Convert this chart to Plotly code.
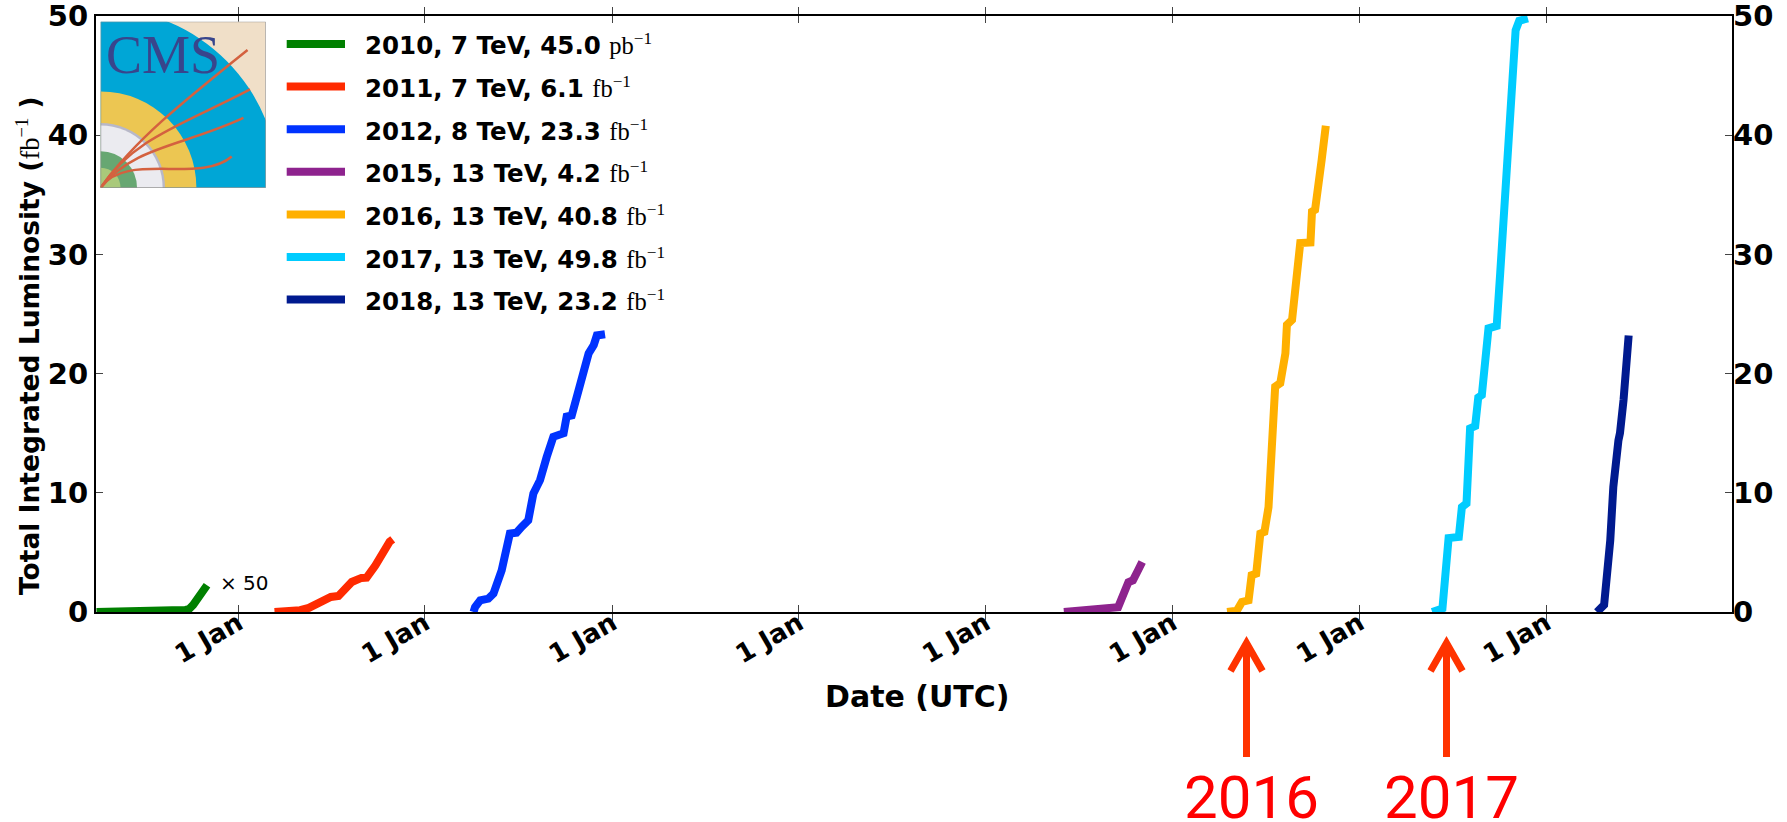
import plotly.graph_objects as go

# ---------------- data ----------------
years = [2010, 2011, 2012, 2015, 2016, 2017, 2018]
energies_tev = [7, 7, 8, 13, 13, 13, 13]
totals = [45.0, 6.1, 23.3, 4.2, 40.8, 49.8, 23.2]
units = ["pb", "fb", "fb", "fb", "fb", "fb", "fb"]
colors = ["#008000", "#ff2a00", "#0033ff", "#8e238e", "#ffb000", "#00ccff", "#001a8f"]

# 2010 is stored in pb^-1 and drawn scaled (x50, in fb^-1)
dates_2010 = ["2010-03-30", "2010-05-15", "2010-07-01", "2010-08-01", "2010-08-25",
              "2010-09-20", "2010-09-27", "2010-10-05", "2010-10-14", "2010-10-19",
              "2010-10-25", "2010-11-01"]
lumi_2010_pb = [0, 0.02, 0.1, 1.0, 3.0, 3.5, 5.0, 12.0, 22.0, 28.0, 39.0, 45.0]
scale_2010 = 50

dates_2011 = ["2011-03-13", "2011-04-16", "2011-05-02", "2011-05-19", "2011-06-13",
              "2011-07-01", "2011-07-16", "2011-07-25", "2011-08-11", "2011-08-30",
              "2011-09-09", "2011-09-26", "2011-10-08", "2011-10-19", "2011-10-24",
              "2011-10-30"]
lumi_2011 = [0, 0.05, 0.15, 0.34, 0.98, 1.26, 1.34, 1.7, 2.52, 2.86, 2.88, 3.9, 4.8,
             5.6, 5.9, 6.1]

dates_2012 = ["2012-04-05", "2012-04-08", "2012-04-18", "2012-05-04", "2012-05-14",
              "2012-05-30", "2012-06-15", "2012-06-28", "2012-07-08", "2012-07-21",
              "2012-07-31", "2012-08-13", "2012-08-26", "2012-09-08", "2012-09-28",
              "2012-10-04", "2012-10-14", "2012-10-24", "2012-11-06", "2012-11-16",
              "2012-11-26", "2012-12-02", "2012-12-18"]
lumi_2012 = [0, 0.42, 0.98, 1.12, 1.54, 3.5, 6.58, 6.65, 7.14, 7.7, 9.94, 11.06, 13.0,
             14.7, 15.0, 16.4, 16.5, 18.07, 20.0, 21.7, 22.4, 23.2, 23.3]

dates_2015 = ["2015-06-03", "2015-07-11", "2015-09-04", "2015-09-17", "2015-10-07",
              "2015-10-16", "2015-10-26", "2015-11-03"]
lumi_2015 = [0, 0.15, 0.28, 0.4, 2.5, 2.66, 3.5, 4.2]

dates_2016 = ["2016-04-17", "2016-05-06", "2016-05-16", "2016-05-29", "2016-06-04",
              "2016-06-13", "2016-06-21", "2016-06-29", "2016-07-07", "2016-07-20",
              "2016-07-30", "2016-08-09", "2016-08-12", "2016-08-22", "2016-09-07",
              "2016-09-27", "2016-09-30", "2016-10-06", "2016-10-19", "2016-10-27"]
lumi_2016 = [0, 0.1, 0.84, 0.98, 3.08, 3.22, 6.58, 6.72, 8.8, 18.9, 19.2, 21.7, 24.1,
             24.5, 30.95, 31.0, 33.6, 33.75, 37.96, 40.8]

dates_2017 = ["2017-05-23", "2017-06-12", "2017-06-24", "2017-07-14", "2017-07-20",
              "2017-07-29", "2017-08-05", "2017-08-15", "2017-08-21", "2017-08-28",
              "2017-09-10", "2017-09-26", "2017-10-03", "2017-10-10", "2017-10-13",
              "2017-10-24", "2017-10-27", "2017-11-02", "2017-11-09", "2017-11-26"]
lumi_2017 = [0, 0.3, 6.2, 6.3, 8.8, 9.1, 15.4, 15.6, 18.0, 18.2, 23.8, 24.0, 28.5,
             33.5, 34.2, 42.5, 44.5, 48.8, 49.6, 49.8]

dates_2018 = ["2018-04-10", "2018-04-24", "2018-05-06", "2018-05-12", "2018-05-22",
              "2018-05-25", "2018-06-01", "2018-06-11"]
lumi_2018 = [0, 0.6, 6.0, 10.5, 14.4, 15.0, 17.8, 23.2]

tick_dates = ["2011-01-01", "2012-01-01", "2013-01-01", "2014-01-01",
              "2015-01-01", "2016-01-01", "2017-01-01", "2018-01-01"]
tick_text = ["1 Jan"] * len(tick_dates)
y_ticks = [0, 10, 20, 30, 40, 50]
arrow_labels = ["2016", "2017"]

# ---------------- geometry helpers ----------------
W, H = 1787, 822
ML, MR, MT, MB = 96, 55, 16, 210
PW = W - ML - MR
PH = H - MT - MB


def px_x(px):
    return (px - ML) / PW


def px_y(py):
    return (H - MB - py) / PH


series = [
    (dates_2010, [v / 1000.0 * scale_2010 for v in lumi_2010_pb]),
    (dates_2011, lumi_2011),
    (dates_2012, lumi_2012),
    (dates_2015, lumi_2015),
    (dates_2016, lumi_2016),
    (dates_2017, lumi_2017),
    (dates_2018, lumi_2018),
]

fig = go.Figure()
for (dx, dy), col, yr in zip(series, colors, years):
    fig.add_trace(go.Scatter(x=dx, y=dy, mode="lines", name=str(yr),
                             line=dict(color=col, width=8),
                             showlegend=False))

# empty traces so the right-hand axis and the logo panel are laid out
fig.add_trace(go.Scatter(x=[], y=[], yaxis="y2", showlegend=False, hoverinfo="skip"))
fig.add_trace(go.Scatter(x=[], y=[], xaxis="x3", yaxis="y3", showlegend=False,
                         hoverinfo="skip"))

tick_font = dict(family="DejaVu Sans", size=29, color="black", weight="bold")

fig.update_layout(
    width=W, height=H,
    margin=dict(l=ML, r=MR, t=MT, b=MB, autoexpand=False),
    paper_bgcolor="white", plot_bgcolor="white",
    showlegend=False,
    xaxis=dict(type="date", range=["2010-03-29", "2018-12-30"], automargin=False,
               tickvals=tick_dates, ticktext=tick_text, tickangle=-30,
               tickfont=dict(family="DejaVu Sans", size=26, color="black", weight="bold"),
               ticklabelstandoff=-16,
               ticks="inside", ticklen=7, tickwidth=1, tickcolor="#444",
               showline=True, linecolor="black", linewidth=2, mirror="allticks",
               showgrid=False, zeroline=False),
    yaxis=dict(range=[0, 50], tickvals=y_ticks, tickfont=tick_font, automargin=False,
               ticklabeloverflow="allow",
               ticks="inside", ticklen=7, tickwidth=1, tickcolor="#444",
               showline=True, linecolor="black", linewidth=2, mirror="allticks",
               showgrid=False, zeroline=False),
    yaxis2=dict(range=[0, 50], tickvals=y_ticks, tickfont=tick_font, automargin=False,
                ticklabeloverflow="allow",
                overlaying="y", side="right", ticks="", showline=False,
                showgrid=False, zeroline=False),
    xaxis3=dict(domain=[px_x(100.7), px_x(265.7)], anchor="y3", range=[0, 1],
                visible=False, fixedrange=True, automargin=False),
    yaxis3=dict(domain=[px_y(187.7), px_y(21.7)], anchor="x3", range=[0, 1],
                visible=False, fixedrange=True, automargin=False),
)

shapes = []
annotations = []

# ---------------- CMS logo panel ----------------
shapes.append(dict(type="rect", xref="x3", yref="y3", x0=0, y0=0, x1=1, y1=1,
                   fillcolor="#f0dfc8", line=dict(width=0), layer="above"))
for r, col in [(1.08, "#00a6d6"), (0.58, "#ecc652"), (0.39, "#b8b8c8"),
               (0.375, "#ebebf0"), (0.22, "#67a772"), (0.12, "#a9c97a")]:
    shapes.append(dict(type="circle", xref="x3", yref="y3", x0=-r, y0=-r, x1=r, y1=r,
                       fillcolor=col, line=dict(width=0), layer="above"))
for path in ["M0,0 C0.2,0.28 0.5,0.52 0.89,0.83",
             "M0,0 C0.2,0.3 0.5,0.38 0.905,0.592",
             "M0,0 C0.2,0.25 0.5,0.25 0.865,0.42",
             "M0,0 C0.15,0.22 0.6,0.02 0.794,0.188"]:
    shapes.append(dict(type="path", xref="x3", yref="y3", path=path,
                       line=dict(color="#d4613f", width=2.5), layer="above"))
shapes.append(dict(type="rect", xref="x3", yref="y3", x0=0, y0=0, x1=1, y1=1,
                   line=dict(color="#8a8a8a", width=1), layer="above"))
annotations.append(dict(xref="x3", yref="y3", x=0.38, y=0.8, text="CMS",
                        showarrow=False, xanchor="center", yanchor="middle",
                        font=dict(family="Liberation Serif", size=54, color="#38458c")))

# ---------------- legend ----------------
row_y0, row_dy = 44.0, 42.6
for i, (yr, e, tot, u, col) in enumerate(zip(years, energies_tev, totals, units, colors)):
    ry = row_y0 + i * row_dy
    shapes.append(dict(type="line", xref="paper", yref="paper",
                       x0=px_x(286.7), x1=px_x(345), y0=px_y(ry), y1=px_y(ry),
                       line=dict(color=col, width=8), layer="above"))
    label = (f"<b>{yr}, {e} TeV, {tot:.1f} </b>"
             f"<span style='font-family:Liberation Serif;font-weight:normal'>{u}</span>"
             f"<span style='font-family:Liberation Serif;font-weight:normal'><sup>−1</sup></span>")
    annotations.append(dict(xref="paper", yref="paper", x=px_x(362.7), y=px_y(ry + 1),
                            text=label, showarrow=False, xanchor="left", yanchor="middle",
                            font=dict(family="DejaVu Sans", size=24.5, color="black")))

# x50 note next to the 2010 curve
annotations.append(dict(xref="x", yref="y", x="2010-11-22", y=2.4, text="× 50",
                        showarrow=False, xanchor="left", yanchor="middle",
                        font=dict(family="DejaVu Sans", size=20, color="black")))

# ---------------- axis titles ----------------
annotations.append(dict(xref="paper", yref="paper", x=px_x(28), y=px_y(346),
                        text="Total Integrated Luminosity ("
                             "<span style='font-family:Liberation Serif;font-weight:normal'>fb</span>"
                             "<span style='font-family:Liberation Serif;font-weight:normal'><sup>−1</sup></span> )",
                        textangle=-90, showarrow=False, xanchor="center", yanchor="middle",
                        font=dict(family="DejaVu Sans", size=26.5, color="black", weight="bold")))
annotations.append(dict(xref="paper", yref="paper", x=px_x(917), y=px_y(696),
                        text="Date (UTC)", showarrow=False, xanchor="center",
                        yanchor="middle",
                        font=dict(family="DejaVu Sans", size=30, color="black", weight="bold")))

# ---------------- red arrows with year labels ----------------
arrow_color = "#ff3300"
for ax_px, label in zip([1246.5, 1446.5], arrow_labels):
    tip, tail = 643, 757
    shapes.append(dict(type="line", xref="paper", yref="paper",
                       x0=px_x(ax_px), x1=px_x(ax_px), y0=px_y(tail), y1=px_y(tip + 3),
                       line=dict(color=arrow_color, width=7), layer="above"))
    shapes.append(dict(type="path", xref="paper", yref="paper",
                       path=(f"M{px_x(ax_px - 16)},{px_y(tip + 28)} "
                             f"L{px_x(ax_px)},{px_y(tip)} "
                             f"L{px_x(ax_px + 16)},{px_y(tip + 28)}"),
                       line=dict(color=arrow_color, width=7), layer="above"))
    annotations.append(dict(xref="paper", yref="paper", x=px_x(ax_px + 5), y=px_y(797),
                            text=label, showarrow=False, xanchor="center",
                            yanchor="middle",
                            font=dict(family="Liberation Sans Narrow, Roboto, sans-serif",
                                      size=60, color="#ff0000")))

fig.update_layout(shapes=shapes, annotations=annotations)
fig.write_html("out.html")
